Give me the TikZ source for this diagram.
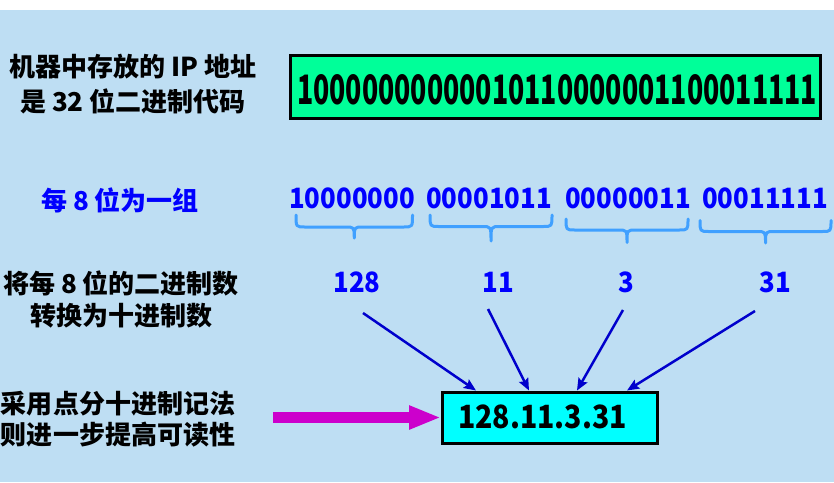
\documentclass[tikz,border=0pt]{standalone}
\usepackage{fontspec}
\setmainfont{Noto Sans CJK SC}
\usetikzlibrary{arrows.meta}
\definecolor{bgblue}{RGB}{190,222,243}
\definecolor{txtblue}{RGB}{0,0,255}
\definecolor{arrblue}{RGB}{0,0,204}
\definecolor{brblue}{RGB}{64,160,255}
\definecolor{boxgreen}{RGB}{0,255,153}
\definecolor{boxcyan}{RGB}{0,255,255}
\definecolor{magarrow}{RGB}{204,0,204}
\newcommand{\ipbrace}[5]{%
  \draw[bracestyle] (#1,#3) .. controls (#1,#4) .. ({#1+9},#4) -- ({(#1+#2)/2-9},#4)
    .. controls ({(#1+#2)/2},#4) .. ({(#1+#2)/2},#5)
    .. controls ({(#1+#2)/2},#4) .. ({(#1+#2)/2+9},#4) -- ({#2-9},#4)
    .. controls (#2,#4) .. (#2,#3);}
\newcommand{\bnum}[1]{\scalebox{0.92}[1]{#1}}
\begin{document}
\begin{tikzpicture}[x=1pt,y=-1pt,
  lefttext/.style={inner sep=0pt, align=center, font=\fontsize{26}{34.5}\selectfont\bfseries},
  bintext/.style={inner sep=0pt, text=txtblue, font=\fontsize{28}{30}\selectfont\bfseries},
  bracestyle/.style={draw=brblue, line width=3pt, line cap=round, line join=round},
  numarrow/.style={draw=arrblue, line width=2.5pt, -{Stealth[length=12pt,width=10pt,inset=2pt]}},
  framebox/.style={draw=black, line width=3pt, inner sep=0pt}]
\useasboundingbox (0,0) rectangle (834,482);
\fill[white] (0,0) rectangle (834,482);
\fill[bgblue] (0,10) rectangle (834,482);

% row 1
\node[lefttext] (t1) at (133,84) {机器中存放的 IP 地址\\是 32 位二进制代码};
\node[framebox, fill=boxgreen, minimum width=530pt, minimum height=63pt] (gbox) at (555,86.5) {};
\node[inner sep=0pt, font=\bfseries] (gtext) at (557,90) {\resizebox{520pt}{30pt}{10000000000010110000001100011111}};

% row 2
\node[lefttext, text=txtblue] (t2) at (120,200) {每 8 位为一组};
\node[bintext] (b1) at (352,198.5) {\bnum{10000000}};
\node[bintext] (b2) at (489,198.5) {\bnum{00001011}};
\node[bintext] (b3) at (628,198.5) {\bnum{00000011}};
\node[bintext] (b4) at (765,198.5) {\bnum{00011111}};
\ipbrace{296}{412.5}{215}{227}{238}
\ipbrace{430}{552}{215}{226.5}{241}
\ipbrace{566}{688}{219}{230}{242.5}
\ipbrace{700}{831}{220.5}{231.5}{243}

% row 3
\node[lefttext, font=\fontsize{26}{32}\selectfont\bfseries] (t3) at (121,299) {将每 8 位的二进制数\\转换为十进制数};
\node[bintext] (d1) at (357,282.5) {\bnum{128}};
\node[bintext] (d2) at (498,282.5) {\bnum{11}};
\node[bintext] (d3) at (626,282.5) {\bnum{3}};
\node[bintext] (d4) at (775,282.5) {\bnum{31}};

% row 4
\node[lefttext, font=\fontsize{26}{31}\selectfont\bfseries] (t4) at (118,419.5) {采用点分十进制记法\\则进一步提高可读性};
\node[framebox, fill=boxcyan, minimum width=214.5pt, minimum height=51pt] (cbox) at (549.75,417.5) {};
\node[inner sep=0pt, anchor=west, font=\fontsize{32}{34}\selectfont\bfseries] (ctext) at (458,416.5) {\scalebox{0.89}[1]{128.11.3.31}};

% arrows from decimals
\coordinate (s1) at (363,313);
\coordinate (s2) at (488,309);
\coordinate (s3) at (623,310);
\coordinate (s4) at (755,311);
\draw[numarrow] (s1) -- ([xshift=35pt]cbox.north west);
\draw[numarrow] (s2) -- ([xshift=88pt]cbox.north west);
\draw[numarrow] (s3) -- ([xshift=136pt]cbox.north west);
\draw[numarrow] (s4) -- ([xshift=186pt]cbox.north west);

% magenta arrow
\coordinate (mstart) at (273,417.5);
\draw[draw=magarrow, line width=11pt, -{Triangle[length=32pt,width=22pt]}] (mstart) -- (cbox.west);
\end{tikzpicture}
\end{document}
